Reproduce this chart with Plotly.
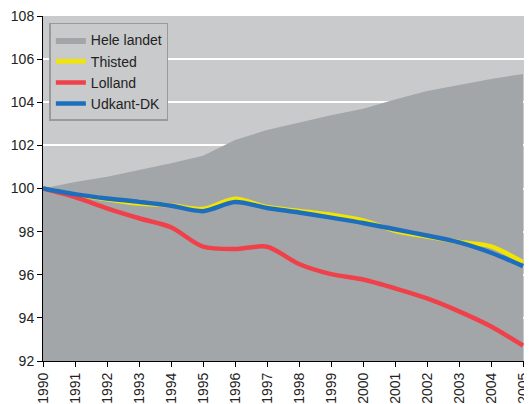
import plotly.graph_objects as go

# ==================== data ====================
years = list(range(1990, 2006))
year_labels = [str(y) for y in years]

hele_landet = [100.0, 100.3, 100.55, 100.86, 101.17, 101.52, 102.25, 102.71,
               103.05, 103.4, 103.7, 104.13, 104.52, 104.8, 105.08, 105.31]
thisted = [100.0, 99.72, 99.5, 99.3, 99.22, 99.05, 99.52, 99.14,
           98.96, 98.78, 98.52, 98.04, 97.77, 97.52, 97.32, 96.58]
lolland = [100.0, 99.6, 99.08, 98.62, 98.2, 97.3, 97.19, 97.3,
           96.5, 96.03, 95.78, 95.37, 94.9, 94.3, 93.6, 92.72]
udkant = [100.0, 99.74, 99.54, 99.38, 99.2, 98.95, 99.37, 99.1,
          98.89, 98.65, 98.4, 98.11, 97.82, 97.5, 97.02, 96.4]

y_ticks = list(range(92, 109, 2))

# ==================== style ====================
FONT = "Liberation Sans, Arial, sans-serif"
COLORS = {
    'BG': '#c9cacc', 'AREA': '#a3a6a9',
    'YELLOW': '#f2e600', 'RED': '#f0404a', 'BLUE': '#1e6ebe',
}

fig = go.Figure()
fig.add_trace(go.Scatter(x=years, y=hele_landet, name='Hele landet', mode='lines',
                         fill='tozeroy', fillcolor=COLORS['AREA'],
                         line=dict(width=0, color=COLORS['AREA'])))
fig.add_trace(go.Scatter(x=years, y=thisted, name='Thisted', mode='lines',
                         line=dict(color=COLORS['YELLOW'], width=4.5, shape='spline', smoothing=0.8)))
fig.add_trace(go.Scatter(x=years, y=lolland, name='Lolland', mode='lines',
                         line=dict(color=COLORS['RED'], width=4.5, shape='spline', smoothing=0.8)))
fig.add_trace(go.Scatter(x=years, y=udkant, name='Udkant-DK', mode='lines',
                         line=dict(color=COLORS['BLUE'], width=4.5, shape='spline', smoothing=0.8)))

# page body has an 8px margin, so the figure is 8px smaller and offset
fig.update_layout(
    width=524, height=396,
    margin=dict(l=35, r=0, t=8, b=43),
    paper_bgcolor='white', plot_bgcolor=COLORS['BG'],
    font=dict(family=FONT, size=14, color='#222222'),
    showlegend=True,
    legend=dict(x=0.013, y=0.98, xanchor='left', yanchor='top',
                bgcolor=COLORS['BG'], bordercolor='#9a9a9a', borderwidth=1.5,
                font=dict(family=FONT, size=14, color='#222222'),
                itemwidth=30, tracegroupgap=0),
)
fig.update_xaxes(range=[1990, 2005.28], tickmode='array', tickvals=years, ticktext=year_labels,
                 tickangle=-90, ticks='outside', ticklen=5, tickcolor='black',
                 showline=True, linecolor='black', linewidth=1, showgrid=False,
                 zeroline=False, automargin=False, ticklabeloverflow='allow')
fig.update_yaxes(range=[92, 108], tickmode='array', tickvals=y_ticks,
                 ticks='outside', ticklen=5, tickcolor='black',
                 showline=True, linecolor='black', linewidth=1,
                 showgrid=True, gridcolor='white', gridwidth=1.5,
                 zeroline=False, automargin=False, ticklabeloverflow='allow')

fig.write_html("out.html")
